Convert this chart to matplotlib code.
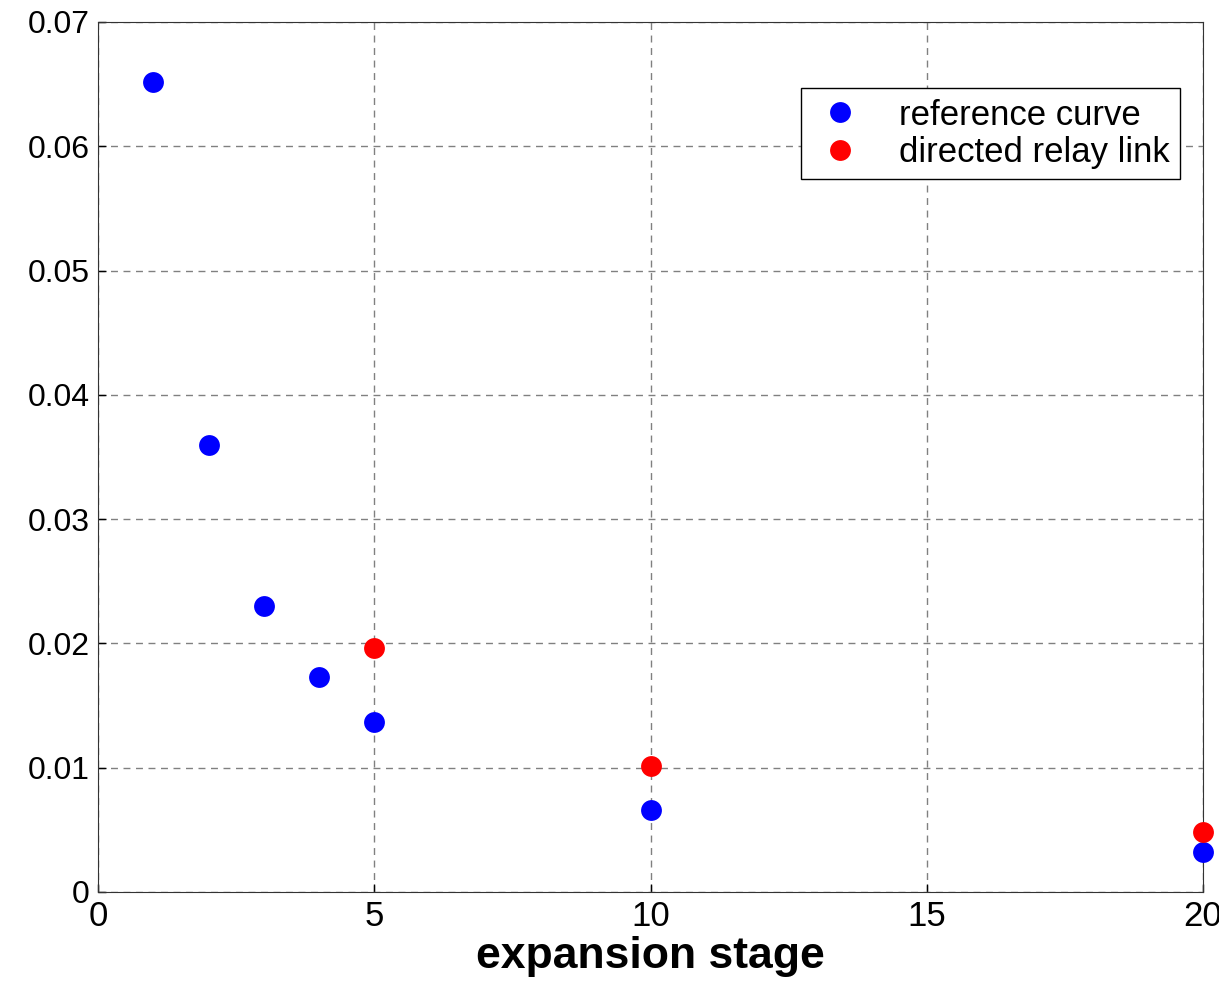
import matplotlib
matplotlib.use("Agg")
from matplotlib import pyplot as plt

# data
stages_ref = [1, 2, 3, 4, 5, 10, 20]
values_ref = [0.0652, 0.0360, 0.0230, 0.0173, 0.0137, 0.0066, 0.0032]
stages_link = [5, 10, 20]
values_link = [0.0196, 0.0101, 0.0048]
xticks = [0, 5, 10, 15, 20]
yticks = [0, 0.01, 0.02, 0.03, 0.04, 0.05, 0.06, 0.07]
ytick_labels = ["0", "0.01", "0.02", "0.03", "0.04", "0.05", "0.06", "0.07"]


def main():
    """main"""
    plt.rcParams['font.family'] = ['Liberation Sans', 'DejaVu Sans']
    fig = plt.figure(figsize=(12.19, 9.9), dpi=100)
    ax = fig.add_axes([0.0804, 0.099, 0.9065, 0.8788])

    ax.plot(stages_ref, values_ref, 'o', color='#0000ff', markersize=15,
            markeredgewidth=0, label='reference curve', clip_on=False, zorder=3)
    ax.plot(stages_link, values_link, 'o', color='#ff0000', markersize=15,
            markeredgewidth=0, label='directed relay link', clip_on=False, zorder=3)

    ax.set_xlim(0, 20)
    ax.set_ylim(0, 0.07)
    ax.set_xticks(xticks)
    ax.set_xticklabels([str(x) for x in xticks], fontsize=25,
                       family=['Liberation Sans Narrow', 'Liberation Sans'])
    ax.set_yticks(yticks)
    ax.set_yticklabels(ytick_labels, fontsize=23)
    ax.tick_params(direction='in', length=6, width=1, pad=6)
    ax.grid(True, color='#808080', linestyle=(0, (5, 4)), linewidth=1)
    for s in ax.spines.values():
        s.set_color('#333333')

    ax.set_xlabel("expansion stage", fontsize=32, fontweight='bold',
                  family=['Liberation Sans Narrow', 'Liberation Sans'],
                  labelpad=2)

    leg = ax.legend(loc='upper right', bbox_to_anchor=(0.979, 0.924),
                    borderaxespad=0, fontsize=25, frameon=True, fancybox=False,
                    edgecolor='black', framealpha=1, borderpad=0.3,
                    handletextpad=0.9, labelspacing=0.12, handlelength=1.6)
    leg.get_frame().set_linewidth(1)

    fig.savefig("out.png", dpi=100)


if __name__ == "__main__":
    main()
